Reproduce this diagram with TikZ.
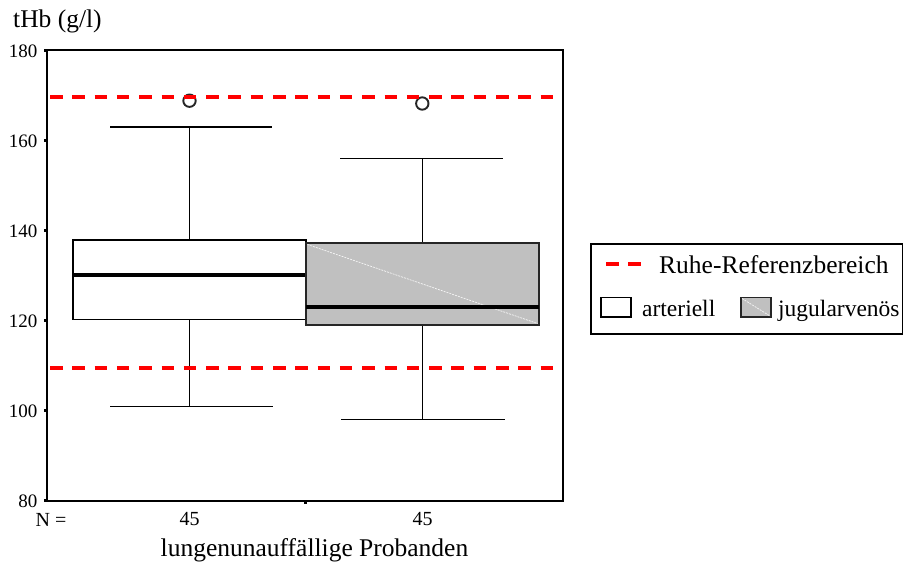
\documentclass[tikz,border=0pt]{standalone}
\usepackage{fontspec}
\setmainfont{Liberation Serif}
\definecolor{boxgray}{HTML}{C0C0C0}
\definecolor{refred}{HTML}{FF0000}
\begin{document}
\begin{tikzpicture}[x=1pt,y=-1pt,
  frame/.style={line width=2pt},
  whisker/.style={line width=1.5pt},
  boxA/.style={draw=black,line width=1.5pt,fill=white},
  boxB/.style={draw=black!85,line width=2pt,fill=boxgray},
  median/.style={line width=4pt},
  refline/.style={refred,line width=4pt,dash pattern=on 12.5pt off 9.8pt},
  outlier/.style={line width=1.9pt,draw=black!85,fill=white},
  tickmark/.style={fill=black},
  sheen/.style={white!85!boxgray,line width=0.7pt,dash pattern=on 2pt off 1pt},
  ticklab/.style={font=\fontsize{19}{21}\selectfont,anchor=east,inner sep=0pt},
  lab/.style={font=\fontsize{25.5}{30}\selectfont,inner sep=0pt},
  leglab/.style={font=\fontsize{23.5}{28}\selectfont,inner sep=0pt,anchor=base west},
  small/.style={font=\fontsize{20}{22}\selectfont,inner sep=0pt}]
\useasboundingbox (0,0) rectangle (903,563);

% axis title
\node[lab,anchor=base west] (ytitle) at (13,27) {tHb (g/l)};

% plot frame
\draw[frame] (47,50) rectangle (563,500.5);

% y ticks and labels (4.5 px per g/l, 80 at y=500.5)
\foreach \v in {80,100,...,180}{
  \pgfmathsetmacro{\yy}{500.5-(\v-80)*4.5}
  \fill[tickmark] (44,\yy-1.6) rectangle (47.5,\yy+1.6);
  \node[ticklab] (t\v) at (37.5,\yy+1) {\v};
}
% category tick on the x axis
\fill[tickmark] (303.5,501) rectangle (306.8,504.3);

% whiskers: arteriell
\draw[whisker] (189.5,240) -- (189.5,127);
\draw[whisker] (110,127) -- (272,127);
\draw[whisker] (189.5,319.5) -- (189.5,406.5);
\draw[whisker] (110,406.5) -- (273,406.5);
% whiskers: jugularvenoes
\draw[whisker] (422.5,243.3) -- (422.5,158.5);
\draw[whisker] (340,158.5) -- (503,158.5);
\draw[whisker] (422.5,324.7) -- (422.5,419.5);
\draw[whisker] (341,419.5) -- (505,419.5);

% boxes
\draw[boxA] (73,240) rectangle (306,319.5);
\draw[median] (73,275.4) -- (306,275.4);
\draw[boxB] (306,243.3) rectangle (539,324.7);
\draw[sheen] (307.5,244.5) -- (537.5,323.5);
\draw[median] (306,306.8) -- (539,306.8);

% outliers
\draw[outlier] (189.5,100.7) circle (6.2);
\draw[outlier] (422.3,103.5) circle (6.2);

% reference range
\draw[refline] (50,96.8) -- (556,96.8);
\draw[refline] (50,368) -- (556,368);

% x axis annotations
\node[small,anchor=west] (nlab) at (35.5,519.5) {N =};
\node[small] (n1) at (189.5,519.5) {45};
\node[small] (n2) at (422.5,519.5) {45};
\node[lab,anchor=base] (xtitle) at (314.5,556) {lungenunauffällige Probanden};

% legend
\draw[line width=1.6pt] (591,244) rectangle (902.5,334);
\draw[refline] (606,263.5) -- (641,263.5);
\node[lab,anchor=base west] (lg1) at (659,273) {Ruhe-Referenzbereich};
\draw[line width=1.5pt,fill=white] (601,297.5) rectangle (631,317);
\node[leglab] (lg2) at (642,316) {arteriell};
\draw[line width=1.6pt,draw=black!85,fill=boxgray] (741,297.5) rectangle (771,317);
\draw[sheen] (742,298.5) -- (770,316);
\node[leglab] (lg3) at (778,316) {jugularvenös};
\end{tikzpicture}
\end{document}
